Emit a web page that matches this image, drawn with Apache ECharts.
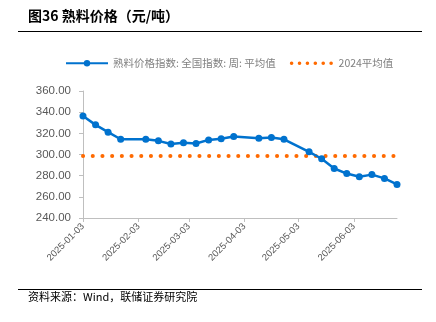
<!DOCTYPE html>
<html><head><meta charset="utf-8">
<script src="https://cdn.jsdelivr.net/npm/echarts@6/dist/echarts.min.js"></script>
<style>html,body{margin:0;padding:0;background:#fff}#c{width:436px;height:322px}</style>
</head><body><div id="c"></div>
<script>
const startDate = '2025-01-03';
const endDate = '2025-06-27';
const priceDates = ['2025-01-03','2025-01-10','2025-01-17','2025-01-24','2025-02-07','2025-02-14','2025-02-21','2025-02-28','2025-03-07','2025-03-14','2025-03-21','2025-03-28','2025-04-11','2025-04-18','2025-04-25','2025-05-09','2025-05-16','2025-05-23','2025-05-30','2025-06-06','2025-06-13','2025-06-20','2025-06-27'];
const priceValues = [336.4,328.0,321.1,314.4,314.4,312.9,310.0,311.0,310.4,313.8,314.8,317.0,315.4,316.0,314.4,302.5,296.0,286.8,282.0,279.0,281.0,277.4,271.7];
const avg2024 = 298.5;
const seriesNames = ['熟料价格指数: 全国指数: 周: 平均值','2024平均值'];

function fmt(d){const m=d.getUTCMonth()+1, day=d.getUTCDate();return d.getUTCFullYear()+'-'+(m<10?'0':'')+m+'-'+(day<10?'0':'')+day;}
const categories=[];
for(let t=Date.parse(startDate+'T00:00:00Z'); t<=Date.parse(endDate+'T00:00:00Z'); t+=86400000){categories.push(fmt(new Date(t)));}
const isTick=(i,v)=>String(v).slice(8)==='03';

const chart=echarts.init(document.getElementById('c'));
const font='"Noto Sans CJK SC", sans-serif';
chart.setOption({
  animation:false,
  textStyle:{fontFamily:font},
  grid:{left:83,right:39,top:91,bottom:104},
  legend:{
    show:true,orient:'horizontal',top:53,left:60,itemWidth:42,itemHeight:8,itemGap:14,
    textStyle:{fontSize:10.5,color:'#808080',fontFamily:font},
    data:[
      {name:seriesNames[0]},
      {name:seriesNames[1],itemStyle:{opacity:0},lineStyle:{width:3.5,type:[0.1,7.8],cap:'round',color:'#FF6A00'}}
    ]
  },
  xAxis:{
    type:'category',data:categories,boundaryGap:false,
    axisLine:{lineStyle:{color:'#bfbfbf'}},
    axisTick:{interval:isTick,length:4,lineStyle:{color:'#bfbfbf'}},
    axisLabel:{interval:isTick,rotate:45,fontSize:9.5,color:'#595959',fontFamily:'"Liberation Sans", Arial',margin:7},
    splitLine:{show:false}
  },
  yAxis:{
    type:'value',min:240,max:360,interval:20,
    axisLine:{show:true,lineStyle:{color:'#bfbfbf'}},
    axisTick:{show:true,length:4,lineStyle:{color:'#bfbfbf'}},
    axisLabel:{formatter:v=>v.toFixed(2),fontSize:11.5,color:'#595959',fontFamily:'"Liberation Sans", Arial',margin:12},
    splitLine:{show:false}
  },
  series:[
    {name:seriesNames[0],type:'line',data:priceDates.map((d,i)=>[d,priceValues[i]]),
     showAllSymbol:true,showSymbol:true,
     symbol:'circle',symbolSize:7,itemStyle:{color:'#0072CE'},lineStyle:{color:'#0072CE',width:2.5},z:3},
    {name:seriesNames[1],type:'line',data:[[startDate,avg2024],[endDate,avg2024]],
     symbol:'none',itemStyle:{color:'#FF6A00'},lineStyle:{color:'#FF6A00',width:4,type:[0.1,9.6],cap:'round'},z:2}
  ],
  graphic:[
    {type:'text',left:28,top:9,style:{text:'图36 熟料价格（元/吨）',font:'bold 14px "Noto Sans CJK SC", sans-serif',fill:'#000'}},
    {type:'line',shape:{x1:18,y1:31.5,x2:422,y2:31.5},style:{stroke:'#000',lineWidth:1}},
    {type:'line',shape:{x1:18,y1:289.5,x2:422,y2:289.5},style:{stroke:'#000',lineWidth:1}},
    {type:'text',left:28,top:291,style:{text:'资料来源：Wind，联储证券研究院',font:'11px "Noto Sans CJK SC", sans-serif',fill:'#000'}}
  ]
});
</script></body></html>
